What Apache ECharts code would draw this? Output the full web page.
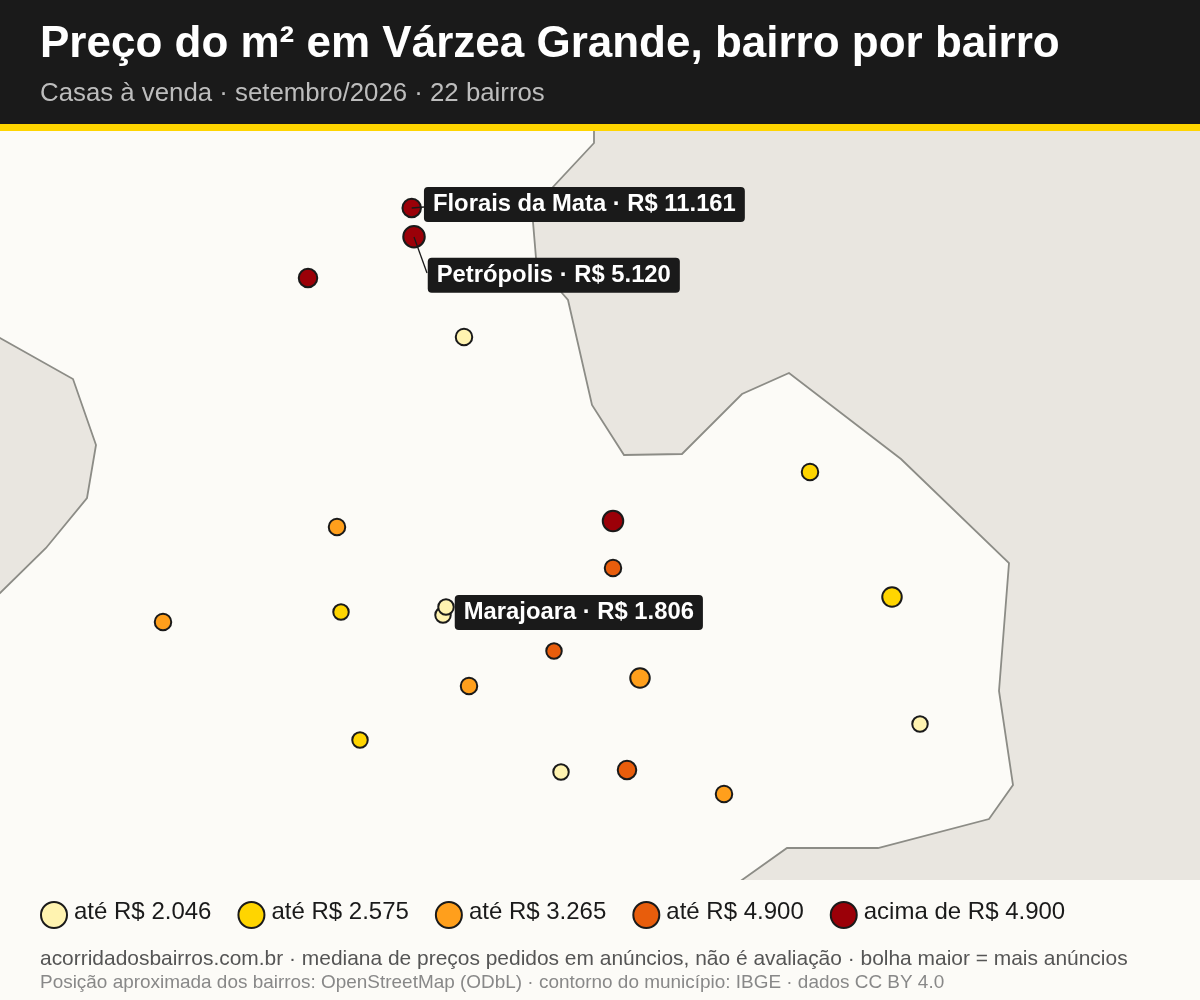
<!DOCTYPE html>
<html>
<head>
<meta charset="utf-8">
<title>Preço do m² em Várzea Grande</title>
<script src="https://cdn.jsdelivr.net/npm/echarts@6/dist/echarts.min.js"></script>
<style>
	html, body { margin: 0; padding: 0; background: #fcfbf7; }
	#chart { width: 1200px; height: 1000px; }
</style>
</head>
<body>
<div id="chart"></div>
<script>
// contorno do municipio (unidades do mapa)
var contornoLeste = [[594,100],[594,143],[553,187],[533,222],[536,258],[562,293],[568,300],[592,405],[624,455],[682,454],[742,394],[789,373],[901,459],[1009,563],[999,691],[1013,785],[989,819],[878,848],[787,848],[742,880],[714,900],[1250,900],[1250,100]];
var contornoOeste = [[-50,310],[0,338],[73,379],[96,445],[87,498],[46,548],[0,593],[-50,640]];

var faixas = ['até R$ 2.046', 'até R$ 2.575', 'até R$ 3.265', 'até R$ 4.900', 'acima de R$ 4.900'];
var cores = ['#fff3b0', '#ffd500', '#ff9f1c', '#e85d0c', '#9b0008'];

// bairros: x, y, diametro da bolha, faixa de preco
var bairroX = [464, 920, 561, 443, 446, 810, 892, 341, 360, 337, 163, 640, 469, 724, 613, 554, 627, 411.7, 414, 308, 613];
var bairroY = [337, 724, 772, 615, 607, 472, 597, 612, 740, 527, 622, 678, 686, 794, 568, 651, 770, 208, 236.7, 278, 521];
var bairroD = [18.5, 17.5, 17.5, 17.5, 17.5, 18.5, 21.5, 17.5, 17.5, 18.5, 18.5, 21.5, 18.5, 18.5, 18.5, 17.5, 20.5, 20.5, 23.5, 20.5, 22.5];
var bairroFaixa = [0, 0, 0, 0, 0, 1, 1, 1, 1, 2, 2, 2, 2, 2, 3, 3, 3, 4, 4, 4, 4];

// bairros com rotulo: indice em bairroX
var rotuloIndice = [17, 18, 4];
var rotuloTexto = ['Florais da Mata · R$ 11.161', 'Petrópolis · R$ 5.120', 'Marajoara · R$ 1.806'];
var rotuloOffset = [[2, -3.5], [2, 38.5], [0, 5.5]];

// linhas-guia dos rotulos
var guiaFlorais = [[411.7, 208], [424, 207]];
var guiaPetropolis = [[414, 237], [427, 273]];

var fonte = '"Liberation Sans", Arial, sans-serif';

function desenhaContorno(params, api) {
	var lista = params.dataIndex == 0 ? contornoLeste : contornoOeste;
	var pontos = [];
	for (var i = 0; i < lista.length; i++) {
		pontos.push(api.coord(lista[i]));
	}
	return {
		type: 'polygon',
		shape: { points: pontos },
		style: { fill: '#e9e6e0', stroke: '#8c8c86', lineWidth: 1.8 }
	};
}

function seriesFaixa(f) {
	var dados = [];
	for (var i = 0; i < bairroX.length; i++) {
		if (bairroFaixa[i] != f) continue;
		var item = { value: [bairroX[i], bairroY[i]], symbolSize: bairroD[i] - 2 };
		var r = rotuloIndice.indexOf(i);
		if (r >= 0) {
			item.label = {
				show: true,
				formatter: rotuloTexto[r],
				position: 'right',
				distance: 0,
				offset: rotuloOffset[r],
				fontFamily: fonte,
				fontSize: 23.8,
				fontWeight: 'bold',
				color: '#ffffff',
				backgroundColor: '#1a1a1a',
				borderRadius: 4,
				padding: [5.5, 9, 5.5, 9]
			};
		}
		dados.push(item);
	}
	return {
		name: faixas[f],
		type: 'scatter',
		z: 3,
		data: dados,
		itemStyle: { color: cores[f], opacity: 1, borderColor: '#1a1a1a', borderWidth: 2 }
	};
}

function seriesGuia(pontos) {
	return {
		type: 'line',
		z: 4,
		data: pontos,
		symbol: 'none',
		silent: true,
		lineStyle: { color: '#1a1a1a', width: 1.3 }
	};
}

var series = [{
	type: 'custom',
	z: 1,
	clip: true,
	silent: true,
	data: [0, 1],
	renderItem: desenhaContorno
}];
for (var f = 0; f < faixas.length; f++) {
	series.push(seriesFaixa(f));
}
series.push(seriesGuia(guiaFlorais));
series.push(seriesGuia(guiaPetropolis));

var option = {
	animation: false,
	backgroundColor: '#fcfbf7',
	graphic: [
		{ type: 'rect', z: -1, shape: { x: 0, y: 0, width: 1200, height: 124 }, style: { fill: '#1a1a1a' } },
		{ type: 'rect', z: -1, shape: { x: 0, y: 124, width: 1200, height: 7 }, style: { fill: '#ffd500' } }
	],
	title: [
		{ text: 'Preço do m² em Várzea Grande, bairro por bairro', left: 40, top: 23, padding: 0, textStyle: { fontFamily: fonte, fontSize: 44, fontWeight: 'bold', color: '#ffffff' } },
		{ text: 'Casas à venda · setembro/2026 · 22 bairros', left: 40, top: 81, padding: 0, textStyle: { fontFamily: fonte, fontSize: 25.8, fontWeight: 'normal', color: '#bdbdbd' } },
		{ text: 'acorridadosbairros.com.br · mediana de preços pedidos em anúncios, não é avaliação · bolha maior = mais anúncios', left: 40, top: 949, padding: 0, textStyle: { fontFamily: fonte, fontSize: 20.94, fontWeight: 'normal', color: '#555555' } },
		{ text: 'Posição aproximada dos bairros: OpenStreetMap (ODbL) · contorno do município: IBGE · dados CC BY 4.0', left: 40, top: 973, padding: 0, textStyle: { fontFamily: fonte, fontSize: 18.94, fontWeight: 'normal', color: '#888888' } }
	],
	legend: {
		data: faixas,
		left: 40,
		top: 900,
		padding: 0,
		itemWidth: 26,
		itemHeight: 26,
		itemGap: 26,
		icon: 'circle',
		formatter: '{a|{name}}',
		textStyle: {
			rich: { a: { fontFamily: fonte, fontSize: 24, color: '#1a1a1a', padding: [0, 0, 6, 2] } }
		}
	},
	grid: { left: 0, right: 0, top: 131, height: 749, containLabel: false },
	xAxis: { type: 'value', min: 0, max: 1200, show: false },
	yAxis: { type: 'value', min: 131, max: 880, inverse: true, show: false },
	series: series
};

var chart = echarts.init(document.getElementById('chart'));
chart.setOption(option);
</script>
</body>
</html>
